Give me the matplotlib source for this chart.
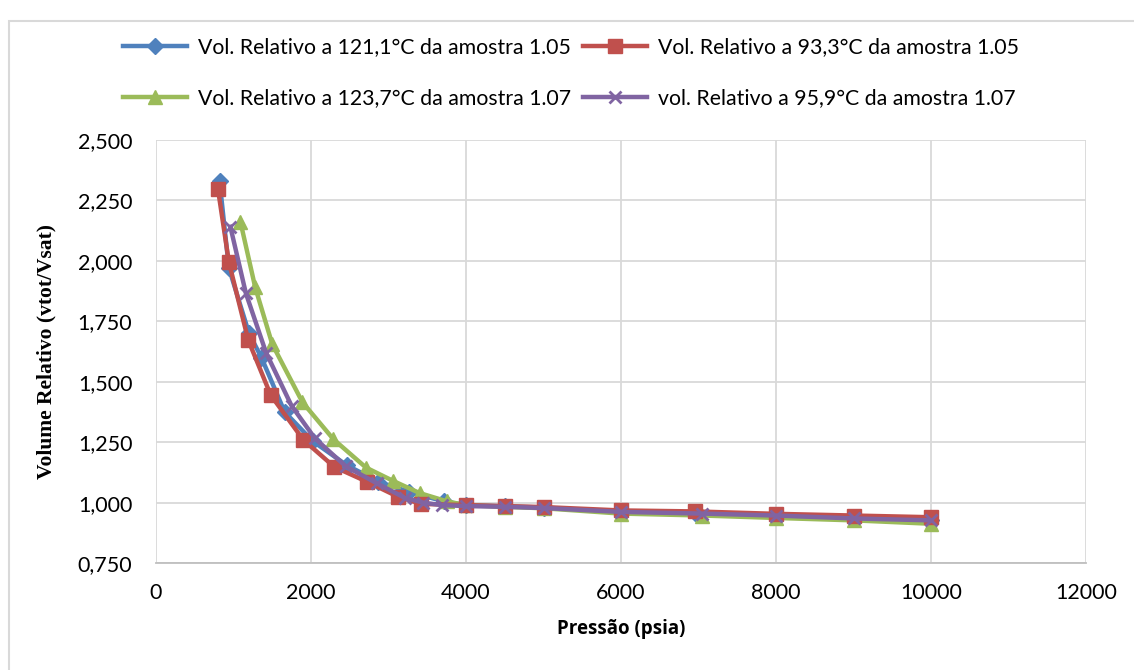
import matplotlib
matplotlib.use("Agg")
import matplotlib.pyplot as plt
from matplotlib.ticker import FuncFormatter, MultipleLocator
from matplotlib.patches import Rectangle

# ---- data ----
p_blue = [820, 940, 1200, 1360, 1660, 2020, 2460, 2870, 3260, 3720, 4000, 4500, 5000, 6000, 6950, 8000, 9000, 10000]
v_blue = [2.33, 1.97, 1.70, 1.60, 1.375, 1.255, 1.155, 1.087, 1.045, 1.005, 0.99, 0.985, 0.98, 0.962, 0.957, 0.947, 0.937, 0.93]

p_red = [800, 940, 1190, 1480, 1900, 2300, 2720, 3120, 3420, 4000, 4500, 5000, 6000, 6950, 8000, 9000, 10000]
v_red = [2.295, 1.995, 1.672, 1.445, 1.26, 1.148, 1.087, 1.025, 0.995, 0.99, 0.986, 0.982, 0.968, 0.964, 0.954, 0.947, 0.94]

p_green = [1090, 1280, 1500, 1890, 2290, 2710, 3060, 3400, 3760, 4000, 4500, 5000, 6000, 7050, 8000, 9000, 10000]
v_green = [2.16, 1.89, 1.655, 1.415, 1.262, 1.145, 1.09, 1.04, 1.005, 0.99, 0.983, 0.977, 0.955, 0.947, 0.937, 0.927, 0.913]

p_purple = [960, 1160, 1420, 1750, 2050, 2450, 2850, 3210, 3450, 3690, 4000, 4500, 5000, 6000, 7050, 8000, 9000, 10000]
v_purple = [2.14, 1.865, 1.62, 1.40, 1.266, 1.15, 1.08, 1.02, 1.0, 0.99, 0.986, 0.983, 0.978, 0.962, 0.955, 0.947, 0.935, 0.927]

labels = ["Vol. Relativo a 121,1°C da amostra 1.05",
          "Vol. Relativo a 93,3°C da amostra 1.05",
          "Vol. Relativo a 123,7°C da amostra 1.07",
          "vol. Relativo a 95,9°C da amostra 1.07"]

x_ticks = [0, 2000, 4000, 6000, 8000, 10000, 12000]
x_label = "Pressão (psia)"
y_label = "Volume Relativo (vtot/Vsat)"

# ---- figure ----
fig = plt.figure(figsize=(11.34, 6.70), dpi=100)
fig.patches.append(Rectangle((9/1134, -0.01), 1.2, 1 - 21/670 + 0.01, transform=fig.transFigure,
                             fill=False, edgecolor="#D9D9D9", linewidth=1.5))
ax = fig.add_axes([156/1134, 1 - 563.2/670, 930/1134, (563.2 - 139.7)/670])

tick_font = "Lato"
lw = 3.2
h_blue, = ax.plot(p_blue, v_blue, color="#4F81BD", lw=lw, marker="D", ms=8, label=labels[0], zorder=3)
h_red, = ax.plot(p_red, v_red, color="#C0504D", lw=lw, marker="s", ms=10, label=labels[1], zorder=4)
h_green, = ax.plot(p_green, v_green, color="#9BBB59", lw=lw, marker="^", ms=10, label=labels[2], zorder=3)
h_purple, = ax.plot(p_purple, v_purple, color="#8064A2", lw=lw, marker="x", ms=9, mew=2, label=labels[3], zorder=5)

ax.set_xlim(0, 12000)
ax.set_ylim(0.75, 2.5)
ax.set_xticks(x_ticks)
ax.yaxis.set_major_locator(MultipleLocator(0.25))
ax.yaxis.set_major_formatter(FuncFormatter(lambda v, p: f"{v:.3f}".replace(".", ",")))
ax.grid(True, color="#D9D9D9", lw=1.3)
ax.set_axisbelow(True)
for s in ["top", "right", "left"]:
    ax.spines[s].set_visible(False)
ax.spines["bottom"].set_color("#BFBFBF")
ax.spines["bottom"].set_linewidth(1.3)
ax.tick_params(length=0, labelsize=15.5)
ax.tick_params(axis="y", pad=17)
ax.tick_params(axis="x", pad=14)
for t in ax.get_xticklabels() + ax.get_yticklabels():
    t.set_fontfamily(tick_font)

ax.set_xlabel(x_label, fontfamily="Open Sans", fontweight="bold", fontsize=13.5, labelpad=12)
ax.set_ylabel(y_label, fontfamily="Liberation Serif", fontweight="bold", fontsize=15.5, labelpad=15)

leg = fig.legend([h_blue, h_green, h_red, h_purple],
                 [labels[0], labels[2], labels[1], labels[3]],
                 ncol=2, loc="center", bbox_to_anchor=(571/1134, 1 - 73/670),
                 frameon=False, prop={"family": tick_font, "size": 15.3},
                 handlelength=3.0, columnspacing=0.6, labelspacing=1.45, handletextpad=0.5)

fig.savefig("out.png", dpi=100)
